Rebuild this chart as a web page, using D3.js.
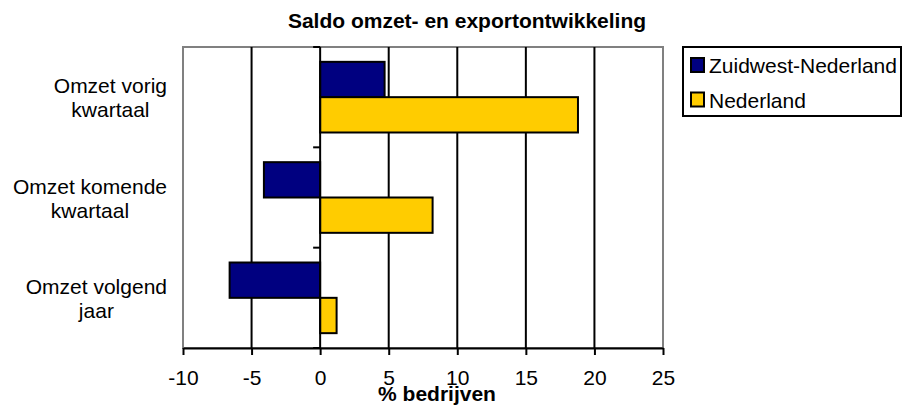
<!DOCTYPE html>
<html>
<head>
<meta charset="utf-8">
<script src="https://cdn.jsdelivr.net/npm/d3@7"></script>
<style>
  body { margin: 0; background: #fff; }
  svg { display: block; font-family: Arial, "Liberation Sans", sans-serif; }
</style>
</head>
<body>
<div class="container"></div>
<script>
// chart values
const categories = [["Omzet vorig", "kwartaal"], ["Omzet komende", "kwartaal"], ["Omzet volgend", "jaar"]];
const zuidwest = [4.7, -4.1, -6.6];
const nederland = [18.8, 8.2, 1.2];
const seriesNames = ["Zuidwest-Nederland", "Nederland"];
const seriesColors = ["#000080", "#FFCC00"];
const xTicks = [-10, -5, 0, 5, 10, 15, 20, 25];

const W = 902, H = 408;
const plot = {left: 183, top: 47, width: 480, height: 301};

const svg = d3.select("div.container").append("svg")
    .attr("width", W)
    .attr("height", H);

// title
svg.append("text")
    .attr("x", 467)
    .attr("y", 28)
    .attr("text-anchor", "middle")
    .style("font-size", "21px")
    .style("font-weight", "bold")
    .text("Saldo omzet- en exportontwikkeling");

const g = svg.append("g")
    .attr("transform", `translate(${plot.left},${plot.top})`);

const x = d3.scaleLinear().domain([-10, 25]).range([0, plot.width]);
const y = d3.scaleBand().domain(d3.range(categories.length)).range([0, plot.height]);
const inner = d3.scaleBand().domain([0, 1]).range([0, y.bandwidth()]).paddingOuter(0.42).paddingInner(0);

// plot frame
g.append("rect")
    .attr("width", plot.width)
    .attr("height", plot.height)
    .attr("fill", "none")
    .attr("stroke", "#808080")
    .attr("stroke-width", 2);

// gridlines
g.selectAll("line.grid")
    .data(xTicks.filter(d => d !== -10 && d !== 25 && d !== 0))
    .enter()
    .append("line")
    .attr("class", "grid")
    .attr("x1", d => x(d))
    .attr("x2", d => x(d))
    .attr("y1", 0)
    .attr("y2", plot.height)
    .attr("stroke", "#000")
    .attr("stroke-width", 2);

// bars
const series = [zuidwest, nederland];
series.forEach((vals, s) => {
    g.selectAll(`rect.s${s}`)
        .data(vals)
        .enter()
        .append("rect")
        .attr("class", `s${s}`)
        .attr("x", d => x(Math.min(0, d)))
        .attr("width", d => Math.abs(x(d) - x(0)))
        .attr("y", (d, i) => y(i) + inner(s))
        .attr("height", inner.bandwidth())
        .attr("fill", seriesColors[s])
        .attr("stroke", "#000")
        .attr("stroke-width", 2);
});

// category axis at zero
g.append("line")
    .attr("x1", x(0)).attr("x2", x(0))
    .attr("y1", 0).attr("y2", plot.height)
    .attr("stroke", "#000")
    .attr("stroke-width", 2);

g.selectAll("line.ytick")
    .data(d3.range(categories.length + 1))
    .enter()
    .append("line")
    .attr("class", "ytick")
    .attr("x1", x(0) - 7).attr("x2", x(0))
    .attr("y1", d => d * y.step())
    .attr("y2", d => d * y.step())
    .attr("stroke", "#000")
    .attr("stroke-width", 2);

// value axis (plain hyphen for negatives, like the original)
const xAxis = g.append("g")
    .attr("transform", `translate(0,${plot.height})`)
    .call(d3.axisBottom(x).tickValues(xTicks).tickFormat(d => String(d))
        .tickSize(7).tickPadding(15).tickSizeOuter(0));
xAxis.select(".domain").attr("stroke", "#000").attr("stroke-width", 2);
xAxis.selectAll(".tick line").attr("stroke", "#000").attr("stroke-width", 2);
xAxis.selectAll(".tick text")
    .attr("fill", "#000")
    .style("font-size", "21px")
    .style("font-family", "Arial, 'Liberation Sans', sans-serif");

svg.append("text")
    .attr("x", 437)
    .attr("y", 401)
    .attr("text-anchor", "middle")
    .style("font-size", "21px")
    .style("font-weight", "bold")
    .text("% bedrijven");

// category labels: block right-aligned, lines centred
categories.forEach((lines, i) => {
    const t = svg.append("text")
        .attr("text-anchor", "middle")
        .style("font-size", "21px");
    lines.forEach((ln, k) => {
        t.append("tspan").attr("dy", k === 0 ? 0 : 24).text(ln);
    });
    const widths = t.selectAll("tspan").nodes().map(n => n.getComputedTextLength());
    const cx = 167 - d3.max(widths) / 2;
    const cy = plot.top + y(i) + y.bandwidth() / 2;
    t.attr("y", cy - 4).selectAll("tspan").attr("x", cx);
});

// legend
const legend = svg.append("g").attr("transform", "translate(683,47)");
legend.append("rect")
    .attr("width", 218)
    .attr("height", 69)
    .attr("fill", "#fff")
    .attr("stroke", "#000")
    .attr("stroke-width", 2);
const item = legend.selectAll("g.item")
    .data(seriesNames)
    .enter()
    .append("g")
    .attr("class", "item")
    .attr("transform", (d, i) => `translate(8,${11 + i * 34.5})`);
item.append("rect")
    .attr("width", 13)
    .attr("height", 14)
    .attr("fill", (d, i) => seriesColors[i])
    .attr("stroke", "#000")
    .attr("stroke-width", 2);
item.append("text")
    .attr("x", 18)
    .attr("y", 15)
    .style("font-size", "21px")
    .text(d => d);
</script>
</body>
</html>
